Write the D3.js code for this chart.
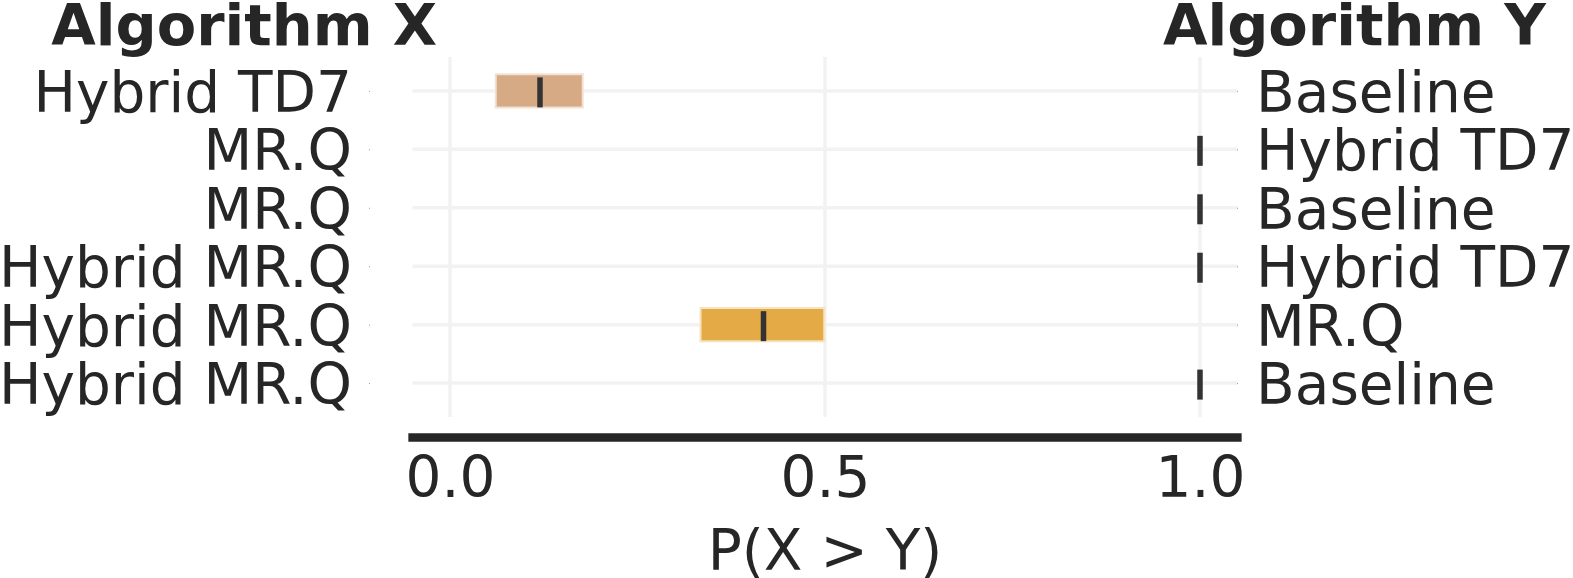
<!DOCTYPE html>
<html>
<head>
<meta charset="utf-8">
<script src="https://cdn.jsdelivr.net/npm/d3@7"></script>
<style>
  body { margin: 0; background: #fff; }
  text { font-family: "DejaVu Sans", sans-serif; fill: #262626; }
</style>
</head>
<body>
<div id="container"></div>
<script>
// data
var algX = ["Hybrid TD7", "MR.Q", "MR.Q", "Hybrid MR.Q", "Hybrid MR.Q", "Hybrid MR.Q"];
var algY = ["Baseline", "Hybrid TD7", "Baseline", "Hybrid TD7", "MR.Q", "Baseline"];
var lower = [0.061, 1.0, 1.0, 1.0, 0.334, 1.0];
var upper = [0.177, 1.0, 1.0, 1.0, 0.499, 1.0];
var median = [0.12, 1.0, 1.0, 1.0, 0.418, 1.0];
var barColors = ["#d6aa84", "#e4aa45", "#e4aa45", "#e4aa45", "#e4aa45", "#e4aa45"];
var edgeColors = ["#f3e2d3", "#f6e3c2", "#f6e3c2", "#f6e3c2", "#f6e3c2", "#f6e3c2"];
var xTicks = [0, 0.5, 1.0];

var w = 1573, h = 578;
var fs = 56.5;   // regular text
var fsB = 57.5;  // bold titles

var svg = d3.select("#container").append("svg")
  .attr("width", w).attr("height", h);

var x = d3.scaleLinear().domain([-0.05, 1.05]).range([412.5, 1237.5]);
var y = d3.scaleLinear().domain([-0.58, 5.58]).range([57, 417]);
var rows = d3.range(algX.length);

// grid
svg.append("g").selectAll("line.vg")
  .data(xTicks).enter().append("line")
  .attr("x1", d => x(d)).attr("x2", d => x(d))
  .attr("y1", y(-0.58)).attr("y2", y(5.58))
  .attr("stroke", "#f2f2f2").attr("stroke-width", 3.5);
svg.append("g").selectAll("line.hg")
  .data(rows).enter().append("line")
  .attr("x1", x(-0.05)).attr("x2", x(1.05))
  .attr("y1", d => y(d)).attr("y2", d => y(d))
  .attr("stroke", "#f2f2f2").attr("stroke-width", 3.5);

// interval bars
var barH = 0.57 * (y(1) - y(0));
svg.append("g").selectAll("rect")
  .data(rows).enter().append("rect")
  .attr("x", i => x(lower[i]))
  .attr("width", i => x(upper[i]) - x(lower[i]))
  .attr("y", i => y(i) - barH / 2)
  .attr("height", barH)
  .attr("fill", i => barColors[i])
  .attr("stroke", i => upper[i] > lower[i] ? edgeColors[i] : "none")
  .attr("stroke-width", 2);

// medians
svg.append("g").selectAll("line")
  .data(rows).enter().append("line")
  .attr("x1", i => x(median[i])).attr("x2", i => x(median[i]))
  .attr("y1", i => y(i) - 13.5).attr("y2", i => y(i) + 16.5)
  .attr("stroke", "#333").attr("stroke-width", 5.5);

// left axis (Algorithm X)
var left = svg.append("g").attr("transform", "translate(370,0)")
  .call(d3.axisLeft(y).tickValues(rows).tickFormat(i => algX[i]).tickSize(1).tickPadding(17));
// right axis (Algorithm Y)
var right = svg.append("g").attr("transform", "translate(1237,0)")
  .call(d3.axisRight(y).tickValues(rows).tickFormat(i => algY[i]).tickSize(1).tickPadding(18));
[left, right].forEach(function(g) {
  g.select(".domain").remove();
  g.selectAll(".tick line").attr("stroke", "#999");
  g.selectAll("text").attr("font-size", fs).attr("fill", "#262626")
    .attr("font-family", "DejaVu Sans").attr("dy", "0.36em");
});

// bottom axis
var bottom = svg.append("g").attr("transform", "translate(0,437.5)")
  .call(d3.axisBottom(x).tickValues(xTicks).tickFormat(d3.format(".1f")).tickSize(0));
bottom.select(".domain").remove();
bottom.selectAll("text").attr("font-size", fs).attr("fill", "#262626")
  .attr("font-family", "DejaVu Sans").attr("y", 59).attr("dy", 0);
svg.append("line")
  .attr("x1", x(-0.05)).attr("x2", x(1.05))
  .attr("y1", 437.5).attr("y2", 437.5)
  .attr("stroke", "#262626").attr("stroke-width", 8.3)
  .attr("stroke-linecap", "square");

// titles
svg.append("text").attr("x", 437).attr("y", 44.5)
  .attr("text-anchor", "end").attr("font-size", fsB).attr("font-weight", "bold")
  .text("Algorithm X");
svg.append("text").attr("x", 1163).attr("y", 44.5)
  .attr("text-anchor", "start").attr("font-size", fsB).attr("font-weight", "bold")
  .text("Algorithm Y");

// x label
svg.append("text").attr("x", x(0.5)).attr("y", 570)
  .attr("text-anchor", "middle").attr("font-size", fs)
  .text("P(X > Y)");
</script>
</body>
</html>
